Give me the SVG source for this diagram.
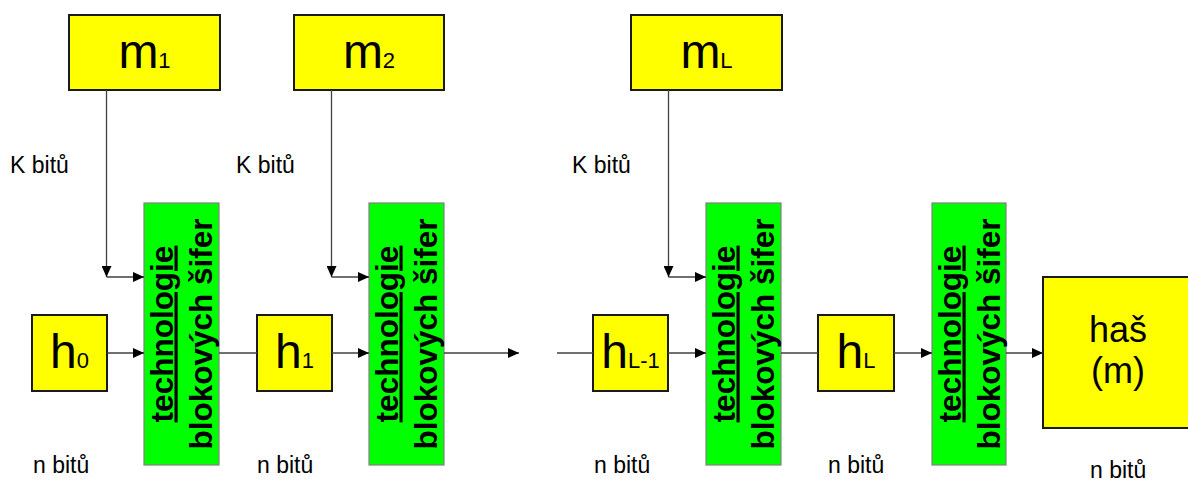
<svg xmlns="http://www.w3.org/2000/svg" width="1188" height="483" viewBox="0 0 1188 483">
  <style>
    .yel { fill: #ffff00; stroke: #1a1a1a; stroke-width: 2; }
    .grn { fill: #00ff00; stroke: #808080; stroke-width: 1.2; }
    .big { font-family: "Liberation Sans", Arial, sans-serif; font-size: 48px; fill: #000; }
    .sub { font-size: 22px; }
    .haz { font-family: "Liberation Sans", Arial, sans-serif; font-size: 36px; fill: #000; text-anchor: middle; }
    .cip { font-family: "Liberation Sans", Arial, sans-serif; font-size: 31.5px; font-weight: bold; fill: #000; text-anchor: middle; }
    .lbl { font-family: "Liberation Sans", Arial, sans-serif; font-size: 23px; fill: #000; }
    .wire { fill: none; stroke: #404040; stroke-width: 1.3; }
  </style>
  <defs>
    <marker id="arrow" markerUnits="userSpaceOnUse" markerWidth="12" markerHeight="10" refX="11" refY="5" orient="auto">
      <path d="M0,0 L11,5 L0,10 Z" fill="#000"/>
    </marker>
  </defs>

  <rect width="1188" height="483" fill="#ffffff"/>

  <!-- message blocks -->
  <g id="m1">
    <rect class="yel" x="69" y="15" width="151" height="75"/>
    <text class="big" x="144.5" y="68" text-anchor="middle">m<tspan class="sub">1</tspan></text>
  </g>
  <g id="m2">
    <rect class="yel" x="294" y="15" width="150" height="75"/>
    <text class="big" x="369" y="68" text-anchor="middle">m<tspan class="sub">2</tspan></text>
  </g>
  <g id="mL">
    <rect class="yel" x="631" y="15" width="151" height="75"/>
    <text class="big" x="706.5" y="68" text-anchor="middle">m<tspan class="sub">L</tspan></text>
  </g>

  <!-- chaining values -->
  <g id="h0">
    <rect class="yel" x="32" y="315" width="75" height="76"/>
    <text class="big" x="69.5" y="368" text-anchor="middle">h<tspan class="sub" font-size="25">0</tspan></text>
  </g>
  <g id="h1">
    <rect class="yel" x="257" y="315" width="75" height="76"/>
    <text class="big" x="294.5" y="368" text-anchor="middle">h<tspan class="sub">1</tspan></text>
  </g>
  <g id="hL-1">
    <rect class="yel" x="593" y="315" width="75" height="76"/>
    <text class="big" x="630.5" y="368" text-anchor="middle">h<tspan class="sub" font-size="23">L-1</tspan></text>
  </g>
  <g id="hL">
    <rect class="yel" x="818" y="315" width="76" height="76"/>
    <text class="big" x="856" y="368" text-anchor="middle">h<tspan class="sub">L</tspan></text>
  </g>
  <g id="hash">
    <rect class="yel" x="1043" y="277" width="152" height="151"/>
    <text class="haz" x="1118" y="342">haš</text>
    <text class="haz" x="1118" y="383">(m)</text>
  </g>

  <!-- block-cipher compression stages -->
  <g id="cipher1">
    <rect class="grn" x="144" y="203" width="75" height="262"/>
    <g transform="translate(144,334) rotate(-90)">
      <text class="cip" x="0" y="28.5" text-decoration="underline">technologie</text>
      <text class="cip" x="0" y="67.5">blokových šifer</text>
    </g>
  </g>
  <g id="cipher2">
    <rect class="grn" x="369" y="203" width="75" height="262"/>
    <g transform="translate(369,334) rotate(-90)">
      <text class="cip" x="0" y="28.5" text-decoration="underline">technologie</text>
      <text class="cip" x="0" y="67.5">blokových šifer</text>
    </g>
  </g>
  <g id="cipher3">
    <rect class="grn" x="706" y="203" width="75" height="262"/>
    <g transform="translate(706,334) rotate(-90)">
      <text class="cip" x="0" y="28.5" text-decoration="underline">technologie</text>
      <text class="cip" x="0" y="67.5">blokových šifer</text>
    </g>
  </g>
  <g id="cipher4">
    <rect class="grn" x="932" y="203" width="74" height="262"/>
    <g transform="translate(932,334) rotate(-90)">
      <text class="cip" x="0" y="28.5" text-decoration="underline">technologie</text>
      <text class="cip" x="0" y="67.5">blokových šifer</text>
    </g>
  </g>

  <!-- width labels -->
  <g id="labels">
    <text class="lbl" x="10" y="173">K bitů</text>
    <text class="lbl" x="236" y="173">K bitů</text>
    <text class="lbl" x="572" y="173">K bitů</text>
    <text class="lbl" x="33" y="473">n bitů</text>
    <text class="lbl" x="257" y="473">n bitů</text>
    <text class="lbl" x="594" y="473">n bitů</text>
    <text class="lbl" x="828" y="473">n bitů</text>
    <text class="lbl" x="1090" y="478">n bitů</text>
  </g>

  <!-- connectors -->
  <g id="connectors">
    <!-- message inputs -->
    <path class="wire" d="M106.5,90 V277" marker-end="url(#arrow)"/>
    <path class="wire" d="M106.5,277 H144" marker-end="url(#arrow)"/>
    <path class="wire" d="M331.5,90 V277" marker-end="url(#arrow)"/>
    <path class="wire" d="M331.5,277 H369" marker-end="url(#arrow)"/>
    <path class="wire" d="M668.5,90 V277" marker-end="url(#arrow)"/>
    <path class="wire" d="M668.5,277 H706" marker-end="url(#arrow)"/>
    <!-- chaining path -->
    <path class="wire" d="M107,353 H144" marker-end="url(#arrow)"/>
    <path class="wire" d="M219,353 H257"/>
    <path class="wire" d="M332,353 H369" marker-end="url(#arrow)"/>
    <path class="wire" d="M444,353 H519" marker-end="url(#arrow)"/>
    <path class="wire" d="M557,353 H593"/>
    <path class="wire" d="M668,353 H706" marker-end="url(#arrow)"/>
    <path class="wire" d="M781,353 H818"/>
    <path class="wire" d="M894,353 H932" marker-end="url(#arrow)"/>
    <path class="wire" d="M1006,353 H1043" marker-end="url(#arrow)"/>
  </g>
</svg>
